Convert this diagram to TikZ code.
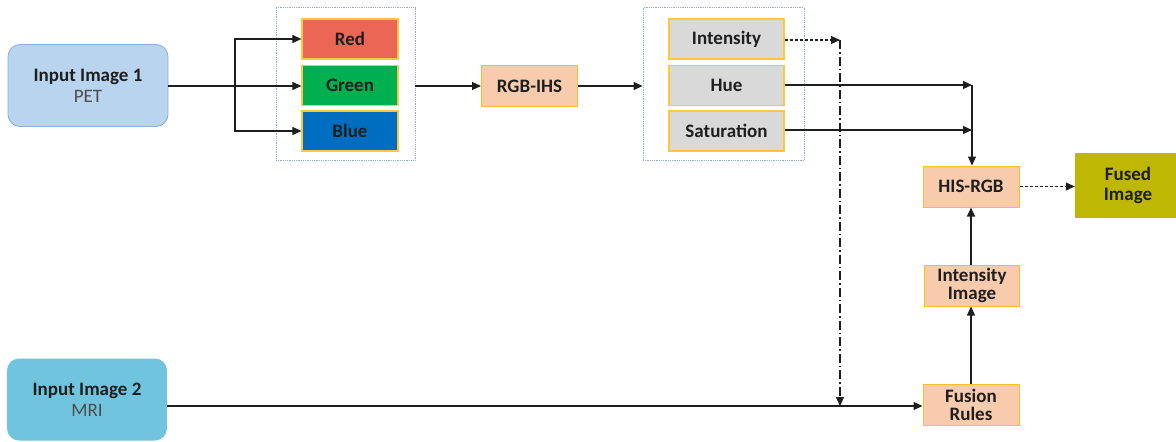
\documentclass[tikz,border=0pt]{standalone}
\usepackage{fontspec}
\setmainfont{Carlito}
\usetikzlibrary{arrows.meta,positioning,calc}

\definecolor{inA}{RGB}{184,212,238}
\definecolor{inAline}{RGB}{140,175,215}
\definecolor{inB}{RGB}{112,196,222}
\definecolor{redc}{RGB}{236,102,86}
\definecolor{greenc}{RGB}{0,176,80}
\definecolor{bluec}{RGB}{0,110,192}
\definecolor{grayc}{RGB}{217,217,217}
\definecolor{peach}{RGB}{248,203,173}
\definecolor{goldline}{RGB}{255,200,60}
\definecolor{orangeline}{RGB}{250,190,40}
\definecolor{olive}{RGB}{190,184,4}
\definecolor{groupline}{RGB}{150,172,205}
\definecolor{ink}{RGB}{30,30,30}

\tikzset{
  base/.style={font=\bfseries\fontsize{19}{22}\selectfont, text=ink, align=center, inner sep=0pt},
  inbox/.style={base, rounded corners=12pt, minimum width=160pt, minimum height=82pt},
  chan/.style={base, draw=goldline, line width=1.2pt, minimum width=96pt, minimum height=40pt},
  proc/.style={base, fill=peach, draw=orangeline, line width=1pt, minimum width=96pt, minimum height=41pt},
  group/.style={draw=groupline, densely dotted, line width=0.8pt},
  arr/.style={-{Triangle[length=9pt,width=8pt]}, line width=1.1pt, draw=ink},
  plain/.style={line width=1.1pt, draw=ink},
  dashdot/.style={dash pattern=on 9pt off 3pt on 1.5pt off 3pt},
}

\begin{document}
\begin{tikzpicture}[x=1pt,y=-1pt]
\useasboundingbox (0,0) rectangle (1176,442);

% channel groups
\node[group, minimum width=139pt, minimum height=153pt, inner sep=0pt] (g1) at (345.5,84) {};
\node[group, minimum width=161pt, minimum height=153pt, inner sep=0pt] (g2) at (723.5,84) {};

% inputs
\node[inbox, fill=inA, draw=inAline, line width=0.8pt] (in1) at (88,85.5)
  {Input Image 1\\[-1pt]{\mdseries\color{black!70}PET}};
\node[inbox, fill=inB] (in2) at (87,399.5)
  {Input Image 2\\[-1pt]{\mdseries\color{black!70}MRI}};

% RGB channels
\node[chan, fill=redc] (red) at (350,39) {Red};
\node[chan, fill=greenc] (green) at (350,85.5) {Green};
\node[chan, fill=bluec] (blue) at (350,131) {Blue};

% colour space conversion
\node[proc] (rgbihs) at (529.5,86) {RGB-IHS};

% IHS components
\node[chan, fill=grayc, minimum width=115pt] (int) at (726.5,39) {Intensity};
\node[chan, fill=grayc, minimum width=115pt] (hue) at (726.5,85.5) {Hue};
\node[chan, fill=grayc, minimum width=115pt] (sat) at (726.5,131) {Saturation};

% fusion chain
\node[proc] (his) at (971,186.5) {HIS-RGB};
\node[proc, minimum width=95pt] (intimg) at (972,285.5) {Intensity\\[-4pt]Image};
\node[proc] (fus) at (971,404.5) {Fusion\\[-4pt]Rules};
\node[base, fill=olive, minimum width=106pt, minimum height=65pt] (fused) at (1128,185.5) {Fused\\[-2pt]Image};

% helper points
\coordinate (split) at (235,86);
\coordinate (idrop) at (840,40);
\coordinate (imeet) at (840,406);
\coordinate (hjoin) at (972,85);
\coordinate (sjoin) at (972,130);

% splitting the PET image into channels
\draw[plain] (in1.east |- split) -- (split);
\draw[arr] (split) |- (red.west);
\draw[arr] (split) -- (green.west |- split);
\draw[arr] (split) |- (blue.west);

\draw[arr] (g1.east |- rgbihs) -- (rgbihs.west);
\draw[arr] (rgbihs.east) -- (g2.west |- rgbihs);

% intensity routed down to the MRI path
\draw[arr, densely dashed] (int.east |- idrop) -- (idrop);
\draw[arr, dashdot] (idrop) -- (imeet);

% hue and saturation into HIS-RGB
\draw[arr] (hue.east |- hjoin) -- (hjoin);
\draw[arr] (sat.east |- sjoin) -- (sjoin);
\draw[arr] (hjoin) -- (his.north -| hjoin);

% MRI path
\draw[arr] (in2.east |- imeet) -- (fus.west |- imeet);
\draw[arr] (fus.north) -- (intimg.south -| fus.north);
\draw[arr] (intimg.north -| his.south) -- (his.south);
\draw[arr, densely dashed] (his.east) -- (fused.west |- his.east);
\end{tikzpicture}
\end{document}
